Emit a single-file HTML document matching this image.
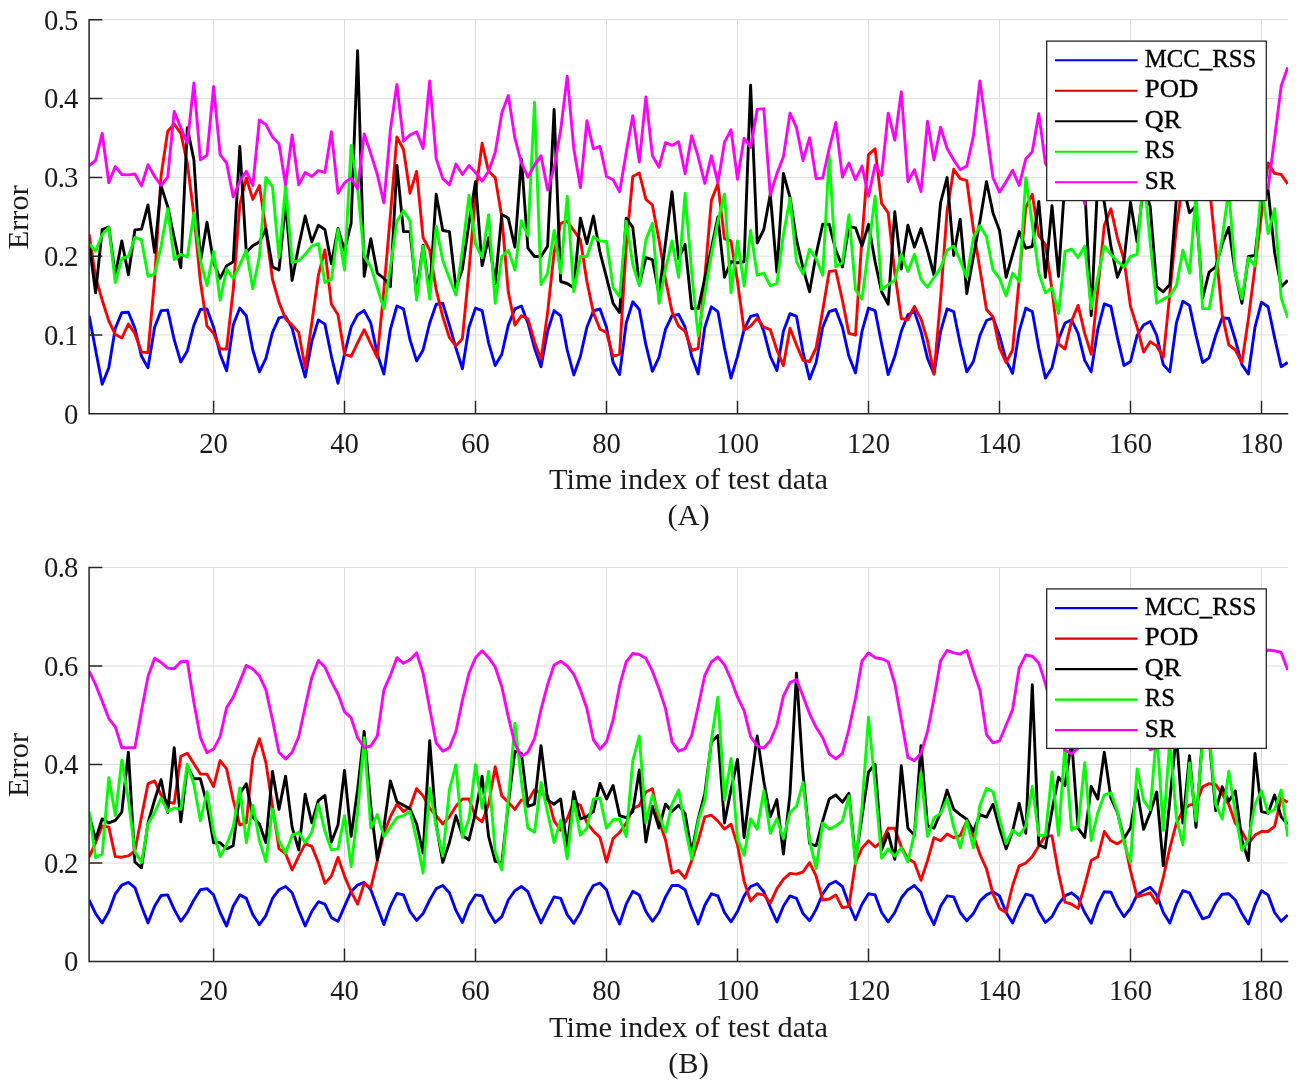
<!DOCTYPE html>
<html><head><meta charset="utf-8"><title>Error plots</title>
<style>
html,body{margin:0;padding:0;background:#fff;}
svg{display:block;}
text{font-family:"Liberation Serif","DejaVu Serif",serif;fill:#1a1a1a;}
.tk{font-size:28.7px;}
.lb{font-size:30.4px;}
.lg{font-size:24.8px;fill:#000;stroke:#000;stroke-width:0.35px;}
</style></head><body>
<svg width="1299" height="1089" viewBox="0 0 1299 1089">
<rect width="1299" height="1089" fill="#fff"/>
<clipPath id="ca"><rect x="89.1" y="19.8" width="1199.1" height="394.0"/></clipPath>
<path d="M213.6 19.8V413.8M344.5 19.8V413.8M475.5 19.8V413.8M606.5 19.8V413.8M737.5 19.8V413.8M868.5 19.8V413.8M999.5 19.8V413.8M1130.5 19.8V413.8M1261.5 19.8V413.8M89.1 335.0H1287.7M89.1 256.2H1287.7M89.1 177.4H1287.7M89.1 98.6H1287.7M89.1 19.8H1287.7" stroke="#dedede" stroke-width="1" fill="none"/>
<polyline clip-path="url(#ca)" points="89.1,315.8 95.6,350.0 102.2,384.3 108.8,367.7 115.3,328.2 121.8,312.6 128.4,312.2 134.9,328.2 141.5,356.3 148.0,367.7 154.6,327.2 161.1,310.6 167.7,310.1 174.2,339.7 180.8,362.1 187.3,351.1 193.9,325.1 200.4,309.5 207.0,308.9 213.6,327.2 220.1,354.2 226.6,370.8 233.2,325.1 239.8,308.1 246.3,315.8 252.8,350.0 259.4,371.9 265.9,358.4 272.5,332.4 279.0,317.8 285.6,316.4 292.1,328.2 298.7,354.2 305.2,377.1 311.8,341.7 318.4,319.9 324.9,324.1 331.4,356.3 338.0,383.3 344.5,354.2 351.1,327.2 357.6,314.7 364.2,310.6 370.8,323.0 377.3,354.2 383.9,374.0 390.4,329.3 396.9,306.0 403.5,308.9 410.0,339.7 416.6,360.9 423.1,350.0 429.7,323.0 436.2,304.3 442.8,303.3 449.4,325.1 455.9,348.0 462.4,368.8 469.0,327.2 475.5,308.1 482.1,310.6 488.6,342.8 495.2,365.6 501.8,354.2 508.3,325.1 514.9,308.9 521.4,306.0 527.9,323.0 534.5,348.0 541.0,366.7 547.6,331.3 554.1,310.6 560.7,315.8 567.2,350.0 573.8,375.0 580.4,356.3 586.9,327.2 593.4,311.0 600.0,308.9 606.5,327.2 613.1,362.5 619.6,374.6 626.2,323.0 632.8,301.8 639.3,309.5 645.9,344.9 652.4,371.3 659.0,357.3 665.5,329.3 672.0,315.8 678.6,314.3 685.1,327.2 691.7,356.3 698.2,374.0 704.8,327.2 711.4,306.8 717.9,311.6 724.5,348.0 731.0,378.1 737.5,356.3 744.1,329.3 750.6,316.4 757.2,314.7 763.8,331.3 770.3,356.3 776.9,370.4 783.4,331.3 790.0,313.7 796.5,316.4 803.0,352.1 809.6,379.1 816.1,362.5 822.7,327.2 829.2,311.6 835.8,309.5 842.4,327.2 848.9,356.3 855.5,372.9 862.0,331.3 868.5,308.1 875.1,310.6 881.6,343.8 888.2,374.6 894.8,356.3 901.3,331.3 907.9,314.7 914.4,311.6 921.0,331.3 927.5,358.4 934.0,374.0 940.6,331.3 947.1,308.9 953.7,311.6 960.2,343.8 966.8,371.9 973.4,361.5 979.9,335.5 986.5,320.5 993.0,317.8 999.5,335.5 1006.1,360.4 1012.6,373.3 1019.2,331.3 1025.8,308.1 1032.3,311.6 1038.8,348.0 1045.4,378.1 1052.0,367.7 1058.5,339.7 1065.0,323.0 1071.6,319.9 1078.1,333.4 1084.7,360.4 1091.2,371.9 1097.8,329.3 1104.3,303.9 1110.9,306.4 1117.4,337.6 1124.0,365.6 1130.5,361.5 1137.1,335.5 1143.6,325.1 1150.2,321.4 1156.7,335.5 1163.3,364.6 1169.8,371.9 1176.4,323.0 1182.9,301.2 1189.5,305.4 1196.0,335.5 1202.6,362.5 1209.1,357.9 1215.7,335.5 1222.2,317.8 1228.8,318.5 1235.3,339.7 1241.9,364.6 1248.4,374.0 1255.0,327.2 1261.5,302.2 1268.1,306.8 1274.6,337.6 1281.2,366.7 1287.7,362.5" fill="none" stroke="#0000ff" stroke-width="2.9" stroke-linejoin="round"/>
<polyline clip-path="url(#ca)" points="89.1,234.1 95.6,277.3 102.2,300.2 108.8,320.9 115.3,334.5 121.8,338.0 128.4,324.1 134.9,333.4 141.5,352.1 148.0,352.5 154.6,279.4 161.1,175.5 167.7,131.2 174.2,124.0 180.8,133.3 187.3,163.0 193.9,215.0 200.4,281.5 207.0,326.1 213.6,333.4 220.1,349.0 226.6,349.0 233.2,289.8 239.8,204.6 246.3,178.0 252.8,199.4 259.4,185.5 265.9,229.5 272.5,279.4 279.0,302.2 285.6,318.9 292.1,325.1 298.7,332.4 305.2,367.7 311.8,323.0 318.4,275.2 324.9,249.9 331.4,304.3 338.0,314.7 344.5,354.2 351.1,356.3 357.6,342.8 364.2,329.7 370.8,343.8 377.3,357.3 383.9,289.8 390.4,214.9 396.9,137.0 403.5,149.5 410.0,193.2 416.6,171.3 423.1,237.8 429.7,250.3 436.2,289.8 442.8,316.8 449.4,337.6 455.9,345.9 462.4,338.6 469.0,270.0 475.5,194.6 482.1,143.3 488.6,171.3 495.2,177.6 501.8,217.0 508.3,291.8 514.9,325.1 521.4,315.8 527.9,318.9 534.5,341.7 541.0,359.4 547.6,312.6 554.1,252.4 560.7,223.3 567.2,221.2 573.8,230.5 580.4,239.9 586.9,281.5 593.4,312.6 600.0,329.3 606.5,332.4 613.1,356.3 619.6,354.2 626.2,246.1 632.8,176.5 639.3,173.0 645.9,199.4 652.4,205.0 659.0,239.9 665.5,279.4 672.0,311.6 678.6,326.1 685.1,331.3 691.7,350.5 698.2,348.4 704.8,277.3 711.4,200.4 717.9,183.8 724.5,238.8 731.0,240.9 737.5,281.5 744.1,330.3 750.6,326.1 757.2,318.5 763.8,327.2 770.3,329.7 776.9,350.0 783.4,365.6 790.0,328.2 796.5,344.9 803.0,360.4 809.6,361.5 816.1,348.0 822.7,310.6 829.2,271.5 835.8,270.6 842.4,300.2 848.9,333.4 855.5,335.1 862.0,237.8 868.5,154.7 875.1,148.9 881.6,203.5 888.2,212.9 894.8,273.1 901.3,318.5 907.9,319.9 914.4,306.4 921.0,318.9 927.5,340.7 934.0,374.0 940.6,298.1 947.1,210.8 953.7,169.3 960.2,178.6 966.8,180.7 973.4,229.5 979.9,269.0 986.5,309.5 993.0,316.8 999.5,348.0 1006.1,362.5 1012.6,350.0 1019.2,279.4 1025.8,207.7 1032.3,194.2 1038.8,235.7 1045.4,244.5 1052.0,289.8 1058.5,343.8 1065.0,349.0 1071.6,320.9 1078.1,305.4 1084.7,333.4 1091.2,354.2 1097.8,289.8 1104.3,225.3 1110.9,208.7 1117.4,237.8 1124.0,259.6 1130.5,306.4 1137.1,327.2 1143.6,352.1 1150.2,341.7 1156.7,345.9 1163.3,357.3 1169.8,293.9 1176.4,227.4 1182.9,181.7 1189.5,158.8 1196.0,148.4 1202.6,158.8 1209.1,183.8 1215.7,248.2 1222.2,314.7 1228.8,344.9 1235.3,350.0 1241.9,362.5 1248.4,318.9 1255.0,266.9 1261.5,214.9 1268.1,163.0 1274.6,173.4 1281.2,174.5 1287.7,183.8" fill="none" stroke="#ff0000" stroke-width="2.9" stroke-linejoin="round"/>
<polyline clip-path="url(#ca)" points="89.1,243.0 95.6,292.9 102.2,229.5 108.8,227.0 115.3,275.2 121.8,240.9 128.4,274.8 134.9,229.9 141.5,229.1 148.0,205.0 154.6,252.4 161.1,185.9 167.7,206.6 174.2,237.8 180.8,267.9 187.3,127.7 193.9,159.9 200.4,261.7 207.0,222.2 213.6,262.7 220.1,278.3 226.6,265.9 233.2,261.7 239.8,146.4 246.3,252.4 252.8,245.7 259.4,242.0 265.9,229.1 272.5,266.9 279.0,270.0 285.6,202.5 292.1,280.4 298.7,246.1 305.2,216.0 311.8,242.0 318.4,225.3 324.9,229.5 331.4,263.8 338.0,228.5 344.5,250.3 351.1,223.3 357.6,50.8 364.2,276.3 370.8,238.8 377.3,273.1 383.9,278.3 390.4,286.7 396.9,165.5 403.5,231.6 410.0,231.6 416.6,293.9 423.1,245.1 429.7,293.9 436.2,194.2 442.8,230.5 449.4,231.6 455.9,287.7 462.4,269.0 469.0,223.3 475.5,181.7 482.1,265.9 488.6,237.8 495.2,283.5 501.8,214.5 508.3,218.1 514.9,247.2 521.4,158.9 527.9,248.2 534.5,256.5 541.0,256.5 547.6,246.1 554.1,109.4 560.7,281.5 567.2,283.5 573.8,287.7 580.4,218.1 586.9,243.6 593.4,216.0 600.0,252.4 606.5,277.3 613.1,303.3 619.6,312.6 626.2,218.1 632.8,227.4 639.3,284.6 645.9,257.6 652.4,259.6 659.0,293.9 665.5,242.8 672.0,191.7 678.6,258.6 685.1,244.5 691.7,308.5 698.2,308.9 704.8,278.3 711.4,248.2 717.9,217.0 724.5,277.3 731.0,261.7 737.5,262.7 744.1,261.7 750.6,85.1 757.2,243.0 763.8,229.5 770.3,194.2 776.9,272.1 783.4,173.4 790.0,197.3 796.5,239.9 803.0,267.9 809.6,291.8 816.1,254.4 822.7,224.3 829.2,224.3 835.8,250.3 842.4,266.9 848.9,226.4 855.5,227.8 862.0,246.1 868.5,224.3 875.1,261.7 881.6,291.8 888.2,304.3 894.8,211.8 901.3,269.0 907.9,225.3 914.4,247.2 921.0,228.5 927.5,250.3 934.0,275.2 940.6,202.5 947.1,177.6 953.7,255.5 960.2,219.1 966.8,293.5 973.4,256.5 979.9,221.2 986.5,181.7 993.0,212.9 999.5,230.5 1006.1,277.3 1012.6,254.4 1019.2,231.6 1025.8,248.2 1032.3,246.5 1038.8,201.4 1045.4,277.3 1052.0,205.6 1058.5,276.3 1065.0,179.6 1071.6,190.0 1078.1,169.2 1084.7,185.8 1091.2,315.8 1097.8,179.6 1104.3,202.5 1110.9,246.1 1117.4,277.3 1124.0,260.7 1130.5,202.5 1137.1,242.0 1143.6,183.8 1150.2,206.6 1156.7,286.7 1163.3,291.8 1169.8,284.6 1176.4,198.3 1182.9,183.8 1189.5,212.9 1196.0,205.6 1202.6,298.1 1209.1,272.1 1215.7,266.9 1222.2,244.0 1228.8,227.4 1235.3,273.1 1241.9,303.3 1248.4,256.5 1255.0,255.5 1261.5,200.4 1268.1,190.0 1274.6,252.4 1281.2,286.7 1287.7,280.4" fill="none" stroke="#000000" stroke-width="2.9" stroke-linejoin="round"/>
<polyline clip-path="url(#ca)" points="89.1,243.6 95.6,251.3 102.2,234.7 108.8,227.4 115.3,282.5 121.8,258.6 128.4,256.5 134.9,237.4 141.5,239.9 148.0,276.3 154.6,274.2 161.1,246.1 167.7,208.7 174.2,259.6 180.8,254.4 187.3,256.9 193.9,212.9 200.4,260.7 207.0,285.6 213.6,251.3 220.1,300.2 226.6,269.0 233.2,278.3 239.8,264.8 246.3,250.3 252.8,288.7 259.4,256.5 265.9,177.6 272.5,186.9 279.0,257.6 285.6,185.9 292.1,262.7 298.7,260.7 305.2,254.4 311.8,246.1 318.4,243.6 324.9,282.5 331.4,279.4 338.0,229.5 344.5,270.0 351.1,145.4 357.6,188.0 364.2,256.5 370.8,266.9 377.3,287.7 383.9,308.9 390.4,266.9 396.9,221.2 403.5,210.8 410.0,221.2 416.6,300.2 423.1,246.1 429.7,299.1 436.2,226.4 442.8,260.7 449.4,278.3 455.9,295.0 462.4,250.3 469.0,195.2 475.5,244.0 482.1,257.6 488.6,214.9 495.2,303.3 501.8,256.5 508.3,250.3 514.9,270.0 521.4,220.8 527.9,235.7 534.5,102.3 541.0,284.6 547.6,273.1 554.1,230.5 560.7,273.1 567.2,196.2 573.8,291.8 580.4,256.5 586.9,256.5 593.4,236.8 600.0,240.9 606.5,241.5 613.1,287.7 619.6,297.0 626.2,221.2 632.8,264.8 639.3,285.6 645.9,239.9 652.4,223.3 659.0,303.3 665.5,269.0 672.0,240.9 678.6,277.3 685.1,193.1 691.7,273.1 698.2,335.5 704.8,293.9 711.4,254.4 717.9,221.2 724.5,194.2 731.0,292.9 737.5,240.9 744.1,286.0 750.6,230.5 757.2,275.2 763.8,273.1 770.3,286.0 776.9,283.5 783.4,234.7 790.0,198.3 796.5,261.7 803.0,274.2 809.6,249.2 816.1,258.6 822.7,275.2 829.2,154.7 835.8,266.9 842.4,262.7 848.9,214.9 855.5,289.8 862.0,299.1 868.5,248.2 875.1,196.2 881.6,289.8 888.2,284.6 894.8,280.4 901.3,254.4 907.9,271.5 914.4,254.4 921.0,279.4 927.5,287.3 934.0,277.3 940.6,267.9 947.1,250.3 953.7,246.1 960.2,260.7 966.8,277.3 973.4,237.8 979.9,225.8 986.5,236.8 993.0,270.0 999.5,278.3 1006.1,296.0 1012.6,273.1 1019.2,281.5 1025.8,178.0 1032.3,225.3 1038.8,273.1 1045.4,292.9 1052.0,287.7 1058.5,313.7 1065.0,251.3 1071.6,249.2 1078.1,257.6 1084.7,246.1 1091.2,308.5 1097.8,277.3 1104.3,246.1 1110.9,254.4 1117.4,261.7 1124.0,266.9 1130.5,256.5 1137.1,254.4 1143.6,171.3 1150.2,243.0 1156.7,303.3 1163.3,299.1 1169.8,296.0 1176.4,285.6 1182.9,250.3 1189.5,273.1 1196.0,194.2 1202.6,308.5 1209.1,308.9 1215.7,273.1 1222.2,237.8 1228.8,190.0 1235.3,273.1 1241.9,299.1 1248.4,257.6 1255.0,265.9 1261.5,185.8 1268.1,233.6 1274.6,208.7 1281.2,298.1 1287.7,317.8" fill="none" stroke="#00ff00" stroke-width="2.9" stroke-linejoin="round"/>
<polyline clip-path="url(#ca)" points="89.1,165.5 95.6,160.5 102.2,133.3 108.8,182.8 115.3,166.6 121.8,174.5 128.4,174.9 134.9,174.0 141.5,185.9 148.0,164.7 154.6,176.5 161.1,185.5 167.7,177.2 174.2,111.5 180.8,127.7 187.3,143.3 193.9,83.0 200.4,159.9 207.0,155.3 213.6,86.5 220.1,154.7 226.6,163.0 233.2,196.9 239.8,181.3 246.3,171.3 252.8,185.5 259.4,120.0 265.9,124.6 272.5,137.0 279.0,143.9 285.6,184.9 292.1,135.0 298.7,184.9 305.2,172.4 311.8,176.5 318.4,170.7 324.9,172.4 331.4,131.8 338.0,193.2 344.5,182.8 351.1,178.0 357.6,189.0 364.2,133.9 370.8,153.7 377.3,174.5 383.9,202.9 390.4,129.8 396.9,84.5 403.5,141.2 410.0,135.0 416.6,131.8 423.1,148.5 429.7,80.9 436.2,158.9 442.8,178.6 449.4,184.9 455.9,164.1 462.4,174.5 469.0,165.5 475.5,172.4 482.1,181.1 488.6,171.3 495.2,152.6 501.8,113.1 508.3,95.5 514.9,138.1 521.4,163.0 527.9,177.2 534.5,165.1 541.0,155.8 547.6,190.0 554.1,168.2 560.7,129.8 567.2,76.1 573.8,148.5 580.4,187.6 586.9,120.8 593.4,148.9 600.0,146.4 606.5,176.5 613.1,179.7 619.6,191.7 626.2,152.6 632.8,115.6 639.3,162.0 645.9,96.9 652.4,155.8 659.0,167.2 665.5,142.7 672.0,145.4 678.6,141.8 685.1,173.8 691.7,135.6 698.2,156.8 704.8,183.4 711.4,155.8 717.9,182.8 724.5,142.2 731.0,129.8 737.5,179.2 744.1,138.1 750.6,147.4 757.2,109.4 763.8,108.6 770.3,195.2 776.9,173.4 783.4,156.8 790.0,113.1 796.5,127.7 803.0,160.5 809.6,137.7 816.1,178.6 822.7,178.0 829.2,148.5 835.8,122.5 842.4,177.2 848.9,163.0 855.5,179.7 862.0,166.1 868.5,196.3 875.1,165.1 881.6,175.5 888.2,113.1 894.8,140.2 901.3,91.7 907.9,181.7 914.4,169.7 921.0,191.7 927.5,121.5 934.0,159.9 940.6,127.3 947.1,148.5 953.7,159.9 960.2,169.7 966.8,166.1 973.4,136.0 979.9,80.9 986.5,129.8 993.0,178.0 999.5,192.1 1006.1,181.7 1012.6,170.3 1019.2,185.5 1025.8,158.9 1032.3,151.6 1038.8,113.6 1045.4,163.0 1052.0,175.5 1058.5,165.1 1065.0,146.4 1071.6,173.4 1078.1,163.0 1084.7,204.2 1091.2,154.7 1097.8,138.1 1104.3,171.3 1110.9,163.0 1117.4,146.4 1124.0,175.5 1130.5,165.1 1137.1,154.7 1143.6,165.1 1150.2,175.5 1156.7,154.7 1163.3,146.4 1169.8,173.4 1176.4,179.7 1182.9,163.0 1189.5,146.4 1196.0,156.8 1202.6,175.5 1209.1,165.1 1215.7,152.6 1222.2,163.0 1228.8,175.5 1235.3,167.2 1241.9,154.7 1248.4,165.1 1255.0,175.5 1261.5,179.7 1268.1,188.0 1274.6,138.1 1281.2,86.1 1287.7,67.4" fill="none" stroke="#ff00ff" stroke-width="2.9" stroke-linejoin="round"/>
<path d="M89.1 19.1V413.8H1288.2M213.6 413.8v-13M344.5 413.8v-13M475.5 413.8v-13M606.5 413.8v-13M737.5 413.8v-13M868.5 413.8v-13M999.5 413.8v-13M1130.5 413.8v-13M1261.5 413.8v-13M89.1 413.8h13.2M89.1 335.0h13.2M89.1 256.2h13.2M89.1 177.4h13.2M89.1 98.6h13.2M89.1 19.8h13.2" stroke="#262626" stroke-width="1.5" fill="none"/>
<text x="213.6" y="452.6" text-anchor="middle" class="tk">20</text>
<text x="344.5" y="452.6" text-anchor="middle" class="tk">40</text>
<text x="475.5" y="452.6" text-anchor="middle" class="tk">60</text>
<text x="606.5" y="452.6" text-anchor="middle" class="tk">80</text>
<text x="737.5" y="452.6" text-anchor="middle" class="tk">100</text>
<text x="868.5" y="452.6" text-anchor="middle" class="tk">120</text>
<text x="999.5" y="452.6" text-anchor="middle" class="tk">140</text>
<text x="1130.5" y="452.6" text-anchor="middle" class="tk">160</text>
<text x="1261.5" y="452.6" text-anchor="middle" class="tk">180</text>
<text x="78.4" y="423.6" text-anchor="end" class="tk">0</text>
<text x="78.4" y="344.8" text-anchor="end" class="tk" textLength="34.3" lengthAdjust="spacing">0.1</text>
<text x="78.4" y="266.0" text-anchor="end" class="tk" textLength="34.3" lengthAdjust="spacing">0.2</text>
<text x="78.4" y="187.2" text-anchor="end" class="tk" textLength="34.3" lengthAdjust="spacing">0.3</text>
<text x="78.4" y="108.4" text-anchor="end" class="tk" textLength="34.3" lengthAdjust="spacing">0.4</text>
<text x="78.4" y="29.6" text-anchor="end" class="tk" textLength="34.3" lengthAdjust="spacing">0.5</text>
<text transform="translate(28 217.3) rotate(-90)" text-anchor="middle" class="lb">Error</text>
<text x="688.5" y="489.2" text-anchor="middle" class="lb">Time index of test data</text>
<text x="688.5" y="525.3" text-anchor="middle" class="lb">(A)</text>
<rect x="1046.7" y="41.1" width="219.6" height="159.5" fill="#fff" stroke="#262626" stroke-width="1.3"/>
<path d="M1055 60.3H1137.6" stroke="#0000e6" stroke-width="2.1"/>
<text x="1144.8" y="66.7" class="lg" textLength="111.5" lengthAdjust="spacingAndGlyphs">MCC_RSS</text>
<path d="M1055 90.8H1137.6" stroke="#d00000" stroke-width="2.1"/>
<text x="1144.8" y="97.2" class="lg" textLength="53.5" lengthAdjust="spacingAndGlyphs">POD</text>
<path d="M1055 121.3H1137.6" stroke="#000000" stroke-width="2.1"/>
<text x="1144.8" y="127.7" class="lg" textLength="36.3" lengthAdjust="spacingAndGlyphs">QR</text>
<path d="M1055 151.8H1137.6" stroke="#00f000" stroke-width="2.1"/>
<text x="1144.8" y="158.2" class="lg" textLength="30.1" lengthAdjust="spacingAndGlyphs">RS</text>
<path d="M1055 182.3H1137.6" stroke="#f000f0" stroke-width="2.1"/>
<text x="1144.8" y="188.7" class="lg" textLength="31.0" lengthAdjust="spacingAndGlyphs">SR</text>
<clipPath id="cb"><rect x="89.1" y="567.5" width="1199.1" height="394.0"/></clipPath>
<path d="M213.6 567.5V961.5M344.5 567.5V961.5M475.5 567.5V961.5M606.5 567.5V961.5M737.5 567.5V961.5M868.5 567.5V961.5M999.5 567.5V961.5M1130.5 567.5V961.5M1261.5 567.5V961.5M89.1 863.0H1287.7M89.1 764.5H1287.7M89.1 666.0H1287.7M89.1 567.5H1287.7" stroke="#dedede" stroke-width="1" fill="none"/>
<polyline clip-path="url(#cb)" points="89.1,900.0 95.6,913.6 102.2,922.9 108.8,911.5 115.3,893.8 121.8,885.1 128.4,882.4 134.9,887.6 141.5,906.3 148.0,922.9 154.6,906.3 161.1,895.5 167.7,894.9 174.2,909.4 180.8,921.3 187.3,912.5 193.9,900.0 200.4,889.7 207.0,888.6 213.6,894.9 220.1,912.5 226.6,926.0 233.2,906.3 239.8,894.9 246.3,898.4 252.8,914.6 259.4,924.6 265.9,915.6 272.5,898.4 279.0,889.7 285.6,886.5 292.1,892.8 298.7,910.4 305.2,926.0 311.8,911.5 318.4,901.7 324.9,904.2 331.4,917.7 338.0,921.3 344.5,906.3 351.1,891.7 357.6,885.1 364.2,882.4 370.8,889.7 377.3,907.3 383.9,924.6 390.4,906.3 396.9,893.4 403.5,894.9 410.0,911.5 416.6,920.4 423.1,913.6 429.7,900.0 436.2,888.6 442.8,885.5 449.4,892.8 455.9,910.4 462.4,922.5 469.0,905.2 475.5,894.9 482.1,895.9 488.6,911.5 495.2,922.5 501.8,916.7 508.3,900.0 514.9,890.7 521.4,886.5 527.9,891.7 534.5,908.4 541.0,922.9 547.6,909.4 554.1,896.9 560.7,898.4 567.2,914.6 573.8,923.3 580.4,912.5 586.9,896.9 593.4,885.5 600.0,883.0 606.5,889.7 613.1,910.4 619.6,924.0 626.2,904.2 632.8,891.3 639.3,894.9 645.9,911.5 652.4,921.3 659.0,912.5 665.5,896.9 672.0,885.5 678.6,885.5 685.1,889.7 691.7,908.4 698.2,924.0 704.8,905.2 711.4,893.8 717.9,895.9 724.5,912.5 731.0,921.9 737.5,911.5 744.1,895.9 750.6,886.5 757.2,883.8 763.8,891.7 770.3,907.3 776.9,921.9 783.4,906.3 790.0,895.9 796.5,898.4 803.0,913.6 809.6,920.8 816.1,909.4 822.7,893.8 829.2,884.5 835.8,881.3 842.4,886.5 848.9,904.2 855.5,919.8 862.0,904.2 868.5,893.8 875.1,894.9 881.6,912.5 888.2,921.9 894.8,912.5 901.3,898.0 907.9,889.7 914.4,885.5 921.0,892.8 927.5,911.5 934.0,924.6 940.6,906.3 947.1,895.9 953.7,896.9 960.2,912.5 966.8,920.8 973.4,913.6 979.9,901.1 986.5,894.9 993.0,891.7 999.5,895.9 1006.1,912.5 1012.6,922.9 1019.2,907.3 1025.8,894.2 1032.3,895.9 1038.8,911.5 1045.4,922.5 1052.0,916.7 1058.5,904.2 1065.0,895.9 1071.6,892.8 1078.1,898.0 1084.7,912.5 1091.2,923.3 1097.8,904.2 1104.3,891.7 1110.9,892.2 1117.4,906.3 1124.0,916.7 1130.5,908.4 1137.1,894.9 1143.6,890.7 1150.2,887.2 1156.7,894.9 1163.3,912.5 1169.8,922.9 1176.4,904.2 1182.9,890.7 1189.5,892.8 1196.0,906.3 1202.6,918.8 1209.1,916.7 1215.7,903.2 1222.2,894.2 1228.8,893.8 1235.3,900.0 1241.9,913.6 1248.4,924.0 1255.0,905.2 1261.5,890.7 1268.1,894.9 1274.6,912.5 1281.2,921.3 1287.7,915.0" fill="none" stroke="#0000ff" stroke-width="2.9" stroke-linejoin="round"/>
<polyline clip-path="url(#cb)" points="89.1,857.2 95.6,842.7 102.2,826.0 108.8,827.1 115.3,856.6 121.8,857.2 128.4,855.8 134.9,851.0 141.5,816.7 148.0,783.8 154.6,780.9 161.1,794.9 167.7,802.1 174.2,803.2 180.8,756.4 187.3,753.3 193.9,763.7 200.4,774.1 207.0,774.1 213.6,786.5 220.1,760.6 226.6,768.9 233.2,800.0 239.8,825.0 246.3,822.9 252.8,758.5 259.4,738.7 265.9,762.6 272.5,806.3 279.0,848.9 285.6,853.7 292.1,869.9 298.7,856.4 305.2,843.9 311.8,846.4 318.4,862.6 324.9,883.4 331.4,876.1 338.0,857.4 344.5,876.1 351.1,891.7 357.6,904.2 364.2,883.4 370.8,888.0 377.3,860.6 383.9,833.3 390.4,816.7 396.9,804.2 403.5,811.5 410.0,807.3 416.6,788.6 423.1,795.9 429.7,808.4 436.2,815.6 442.8,824.0 449.4,816.7 455.9,806.3 462.4,799.0 469.0,799.0 475.5,816.7 482.1,821.9 488.6,804.2 495.2,766.8 501.8,795.9 508.3,802.1 514.9,809.4 521.4,800.0 527.9,801.1 534.5,789.7 541.0,793.8 547.6,795.9 554.1,820.8 560.7,830.2 567.2,818.8 573.8,802.1 580.4,805.2 586.9,822.9 593.4,831.2 600.0,837.5 606.5,862.0 613.1,838.5 619.6,832.5 626.2,823.1 632.8,808.6 639.3,805.5 645.9,792.0 652.4,788.8 659.0,821.1 665.5,839.8 672.0,873.0 678.6,870.5 685.1,878.2 691.7,860.6 698.2,840.8 704.8,816.9 711.4,815.2 717.9,821.1 724.5,829.0 731.0,824.2 737.5,845.0 744.1,881.3 750.6,901.1 757.2,893.8 763.8,894.9 770.3,903.2 776.9,888.6 783.4,879.3 790.0,873.4 796.5,874.1 803.0,872.0 809.6,862.6 816.1,876.1 822.7,900.0 829.2,899.0 835.8,894.9 842.4,907.9 848.9,906.3 855.5,862.6 862.0,848.1 868.5,840.8 875.1,847.0 881.6,841.8 888.2,828.3 894.8,828.3 901.3,847.0 907.9,858.5 914.4,862.6 921.0,880.3 927.5,860.6 934.0,837.7 940.6,840.8 947.1,834.0 953.7,837.7 960.2,835.6 966.8,821.1 973.4,835.6 979.9,854.3 986.5,868.9 993.0,893.8 999.5,908.4 1006.1,912.5 1012.6,885.5 1019.2,865.8 1025.8,863.1 1032.3,856.4 1038.8,846.0 1045.4,835.6 1052.0,836.0 1058.5,873.0 1065.0,902.1 1071.6,904.2 1078.1,908.4 1084.7,885.5 1091.2,860.6 1097.8,856.8 1104.3,831.5 1110.9,840.8 1117.4,843.9 1124.0,839.4 1130.5,870.9 1137.1,896.9 1143.6,894.9 1150.2,892.8 1156.7,903.2 1163.3,877.2 1169.8,848.1 1176.4,823.1 1182.9,810.7 1189.5,804.9 1196.0,804.4 1202.6,786.8 1209.1,783.6 1215.7,784.7 1222.2,794.0 1228.8,804.4 1235.3,823.1 1241.9,831.5 1248.4,843.9 1255.0,835.0 1261.5,831.5 1268.1,831.5 1274.6,826.3 1281.2,798.2 1287.7,802.4" fill="none" stroke="#ff0000" stroke-width="2.9" stroke-linejoin="round"/>
<polyline clip-path="url(#cb)" points="89.1,814.6 95.6,839.5 102.2,818.8 108.8,822.9 115.3,820.4 121.8,812.1 128.4,752.2 134.9,862.0 141.5,867.8 148.0,822.9 154.6,800.0 161.1,779.7 167.7,812.5 174.2,747.7 180.8,821.9 187.3,766.8 193.9,778.8 200.4,778.8 207.0,804.2 213.6,842.7 220.1,842.7 226.6,848.9 233.2,845.8 239.8,793.8 246.3,783.8 252.8,816.7 259.4,824.0 265.9,842.7 272.5,771.4 279.0,809.4 285.6,776.1 292.1,827.1 298.7,849.9 305.2,794.2 311.8,822.9 318.4,800.5 324.9,795.5 331.4,842.0 338.0,825.0 344.5,770.5 351.1,836.4 357.6,789.7 364.2,731.5 370.8,806.3 377.3,859.9 383.9,827.1 390.4,780.9 396.9,801.7 403.5,805.2 410.0,808.8 416.6,824.0 423.1,853.1 429.7,740.8 436.2,825.0 442.8,862.4 449.4,842.7 455.9,815.6 462.4,835.4 469.0,840.0 475.5,812.5 482.1,776.1 488.6,836.4 495.2,861.4 501.8,862.8 508.3,804.2 514.9,751.2 521.4,753.3 527.9,806.3 534.5,804.2 541.0,745.6 547.6,800.0 554.1,804.2 560.7,799.0 567.2,847.9 573.8,791.7 580.4,818.8 586.9,816.7 593.4,811.5 600.0,783.4 606.5,799.0 613.1,785.5 619.6,815.6 626.2,817.7 632.8,811.5 639.3,769.9 645.9,842.0 652.4,806.3 659.0,828.1 665.5,804.2 672.0,811.5 678.6,805.2 685.1,813.6 691.7,852.8 698.2,818.8 704.8,793.8 711.4,741.8 717.9,735.6 724.5,822.9 731.0,789.7 737.5,759.5 744.1,837.5 750.6,785.5 757.2,736.0 763.8,781.3 770.3,816.7 776.9,799.6 783.4,854.1 790.0,793.8 796.5,673.3 803.0,773.0 809.6,843.7 816.1,845.8 822.7,820.8 829.2,799.0 835.8,794.9 842.4,802.1 848.9,793.4 855.5,859.5 862.0,816.7 868.5,772.0 875.1,764.3 881.6,849.9 888.2,833.3 894.8,859.3 901.3,765.8 907.9,828.1 914.4,835.4 921.0,745.6 927.5,826.0 934.0,828.1 940.6,812.5 947.1,790.1 953.7,809.4 960.2,814.6 966.8,819.2 973.4,831.4 979.9,814.6 986.5,817.1 993.0,804.2 999.5,828.1 1006.1,848.9 1012.6,831.2 1019.2,803.2 1025.8,833.3 1032.3,684.7 1038.8,844.7 1045.4,847.9 1052.0,810.4 1058.5,777.2 1065.0,785.5 1071.6,739.8 1078.1,828.1 1084.7,837.5 1091.2,786.5 1097.8,799.0 1104.3,752.2 1110.9,798.0 1117.4,812.5 1124.0,838.5 1130.5,828.1 1137.1,789.7 1143.6,829.4 1150.2,812.7 1156.7,792.0 1163.3,865.8 1169.8,800.3 1176.4,733.8 1182.9,823.1 1189.5,755.6 1196.0,827.3 1202.6,735.8 1209.1,737.9 1215.7,810.7 1222.2,786.8 1228.8,801.3 1235.3,790.9 1241.9,839.8 1248.4,860.6 1255.0,753.5 1261.5,811.7 1268.1,813.2 1274.6,795.1 1281.2,816.9 1287.7,824.2" fill="none" stroke="#000000" stroke-width="2.9" stroke-linejoin="round"/>
<polyline clip-path="url(#cb)" points="89.1,811.5 95.6,857.8 102.2,854.1 108.8,777.6 115.3,815.6 121.8,760.1 128.4,800.0 134.9,852.0 141.5,862.4 148.0,824.0 154.6,812.5 161.1,798.0 167.7,811.5 174.2,807.9 180.8,809.4 187.3,764.3 193.9,784.5 200.4,820.8 207.0,791.7 213.6,832.3 220.1,856.6 226.6,844.7 233.2,827.1 239.8,788.0 246.3,842.7 252.8,805.2 259.4,840.6 265.9,861.6 272.5,809.4 279.0,840.6 285.6,853.1 292.1,835.4 298.7,832.3 305.2,842.7 311.8,832.3 318.4,804.2 324.9,831.2 331.4,849.9 338.0,848.9 344.5,815.6 351.1,866.6 357.6,812.5 364.2,737.7 370.8,828.1 377.3,814.6 383.9,836.4 390.4,827.1 396.9,817.7 403.5,815.6 410.0,811.5 416.6,839.5 423.1,873.0 429.7,788.0 436.2,827.1 442.8,856.2 449.4,789.7 455.9,764.7 462.4,837.5 469.0,818.8 475.5,764.7 482.1,808.4 488.6,771.4 495.2,852.0 501.8,869.9 508.3,800.0 514.9,723.1 521.4,781.3 527.9,828.1 534.5,832.3 541.0,782.4 547.6,812.5 554.1,842.7 560.7,819.8 567.2,858.7 573.8,801.1 580.4,835.4 586.9,828.1 593.4,799.0 600.0,798.0 606.5,828.1 613.1,819.8 619.6,819.2 626.2,836.4 632.8,760.6 639.3,736.0 645.9,822.9 652.4,794.9 659.0,814.6 665.5,832.3 672.0,804.2 678.6,790.1 685.1,827.1 691.7,859.1 698.2,820.8 704.8,800.0 711.4,739.8 717.9,697.2 724.5,800.0 731.0,758.5 737.5,839.5 744.1,855.3 750.6,818.8 757.2,829.1 763.8,790.7 770.3,833.3 776.9,818.8 783.4,838.5 790.0,812.5 796.5,806.3 803.0,782.4 809.6,840.6 816.1,868.6 822.7,822.9 829.2,829.1 835.8,826.0 842.4,820.8 848.9,795.9 855.5,863.7 862.0,806.3 868.5,717.3 875.1,785.5 881.6,858.2 888.2,848.9 894.8,856.2 901.3,847.9 907.9,862.0 914.4,833.3 921.0,773.0 927.5,836.4 934.0,817.7 940.6,813.6 947.1,799.0 953.7,827.1 960.2,847.9 966.8,820.8 973.4,847.9 979.9,805.2 986.5,788.6 993.0,791.7 999.5,818.8 1006.1,843.7 1012.6,830.2 1019.2,835.4 1025.8,826.0 1032.3,786.5 1038.8,835.4 1045.4,835.4 1052.0,772.0 1058.5,835.4 1065.0,745.0 1071.6,830.2 1078.1,826.0 1084.7,762.6 1091.2,840.6 1097.8,812.5 1104.3,794.9 1110.9,792.8 1117.4,811.5 1124.0,842.7 1130.5,862.6 1137.1,768.9 1143.6,800.3 1150.2,809.6 1156.7,731.7 1163.3,830.4 1169.8,740.0 1176.4,817.9 1182.9,845.0 1189.5,762.9 1196.0,821.1 1202.6,740.0 1209.1,735.8 1215.7,804.4 1222.2,819.0 1228.8,771.2 1235.3,812.7 1241.9,850.2 1248.4,839.8 1255.0,804.4 1261.5,790.9 1268.1,812.7 1274.6,809.6 1281.2,789.9 1287.7,836.7" fill="none" stroke="#00ff00" stroke-width="2.9" stroke-linejoin="round"/>
<polyline clip-path="url(#cb)" points="89.1,671.2 95.6,684.7 102.2,701.3 108.8,718.6 115.3,726.9 121.8,747.7 128.4,747.7 134.9,747.7 141.5,710.7 148.0,676.4 154.6,658.3 161.1,662.4 167.7,668.1 174.2,668.7 180.8,661.8 187.3,661.2 193.9,702.4 200.4,737.7 207.0,752.7 213.6,749.1 220.1,736.7 226.6,707.6 233.2,697.2 239.8,681.6 246.3,665.4 252.8,669.1 259.4,675.8 265.9,689.9 272.5,720.0 279.0,752.2 285.6,758.9 292.1,752.2 298.7,736.7 305.2,706.5 311.8,677.4 318.4,660.4 324.9,667.0 331.4,681.6 338.0,694.0 344.5,711.7 351.1,717.9 357.6,737.7 364.2,747.7 370.8,746.0 377.3,736.0 383.9,689.9 390.4,675.3 396.9,657.7 403.5,663.3 410.0,659.7 416.6,652.9 423.1,673.3 429.7,708.6 436.2,742.9 442.8,751.2 449.4,747.7 455.9,731.5 462.4,700.3 469.0,673.3 475.5,657.7 482.1,650.8 488.6,657.7 495.2,667.0 501.8,686.8 508.3,716.9 514.9,743.9 521.4,756.4 527.9,752.2 534.5,738.7 541.0,709.6 547.6,684.7 554.1,664.9 560.7,661.2 567.2,666.0 573.8,674.3 580.4,689.9 586.9,708.6 593.4,739.8 600.0,749.1 606.5,741.8 613.1,720.0 619.6,685.7 626.2,661.8 632.8,653.5 639.3,654.5 645.9,658.3 652.4,671.2 659.0,688.8 665.5,708.6 672.0,741.8 678.6,751.2 685.1,748.5 691.7,735.6 698.2,706.5 704.8,675.3 711.4,661.8 717.9,657.0 724.5,664.9 731.0,679.5 737.5,697.2 744.1,710.7 750.6,736.7 757.2,746.0 763.8,748.1 770.3,740.8 776.9,725.2 783.4,696.1 790.0,682.6 796.5,679.5 803.0,696.1 809.6,713.8 816.1,727.3 822.7,737.7 829.2,753.9 835.8,758.9 842.4,753.3 848.9,729.4 855.5,698.2 862.0,660.8 868.5,652.9 875.1,657.7 881.6,658.7 888.2,661.8 894.8,683.6 901.3,720.0 907.9,757.4 914.4,760.6 921.0,753.3 927.5,731.5 934.0,698.2 940.6,660.8 947.1,650.4 953.7,652.9 960.2,654.1 966.8,650.4 973.4,671.2 979.9,689.9 986.5,734.6 993.0,742.9 999.5,740.8 1006.1,725.2 1012.6,709.6 1019.2,668.1 1025.8,655.0 1032.3,656.2 1038.8,662.9 1045.4,683.6 1052.0,708.6 1058.5,733.5 1065.0,750.2 1071.6,753.9 1078.1,748.1 1084.7,731.5 1091.2,702.4 1097.8,675.3 1104.3,658.7 1110.9,652.5 1117.4,656.6 1124.0,671.2 1130.5,694.0 1137.1,719.0 1143.6,739.8 1150.2,749.7 1156.7,748.1 1163.3,737.7 1169.8,710.7 1176.4,681.6 1182.9,660.8 1189.5,652.5 1196.0,654.5 1202.6,667.0 1209.1,687.8 1215.7,710.7 1222.2,731.5 1228.8,743.9 1235.3,746.0 1241.9,733.5 1248.4,702.4 1255.0,671.2 1261.5,654.5 1268.1,650.0 1274.6,650.8 1281.2,652.5 1287.7,670.1" fill="none" stroke="#ff00ff" stroke-width="2.9" stroke-linejoin="round"/>
<path d="M89.1 566.8V961.5H1288.2M213.6 961.5v-13M344.5 961.5v-13M475.5 961.5v-13M606.5 961.5v-13M737.5 961.5v-13M868.5 961.5v-13M999.5 961.5v-13M1130.5 961.5v-13M1261.5 961.5v-13M89.1 961.5h13.2M89.1 863.0h13.2M89.1 764.5h13.2M89.1 666.0h13.2M89.1 567.5h13.2" stroke="#262626" stroke-width="1.5" fill="none"/>
<text x="213.6" y="1000.3" text-anchor="middle" class="tk">20</text>
<text x="344.5" y="1000.3" text-anchor="middle" class="tk">40</text>
<text x="475.5" y="1000.3" text-anchor="middle" class="tk">60</text>
<text x="606.5" y="1000.3" text-anchor="middle" class="tk">80</text>
<text x="737.5" y="1000.3" text-anchor="middle" class="tk">100</text>
<text x="868.5" y="1000.3" text-anchor="middle" class="tk">120</text>
<text x="999.5" y="1000.3" text-anchor="middle" class="tk">140</text>
<text x="1130.5" y="1000.3" text-anchor="middle" class="tk">160</text>
<text x="1261.5" y="1000.3" text-anchor="middle" class="tk">180</text>
<text x="78.4" y="971.3" text-anchor="end" class="tk">0</text>
<text x="78.4" y="872.8" text-anchor="end" class="tk" textLength="34.3" lengthAdjust="spacing">0.2</text>
<text x="78.4" y="774.3" text-anchor="end" class="tk" textLength="34.3" lengthAdjust="spacing">0.4</text>
<text x="78.4" y="675.8" text-anchor="end" class="tk" textLength="34.3" lengthAdjust="spacing">0.6</text>
<text x="78.4" y="577.3" text-anchor="end" class="tk" textLength="34.3" lengthAdjust="spacing">0.8</text>
<text transform="translate(28 765.0) rotate(-90)" text-anchor="middle" class="lb">Error</text>
<text x="688.5" y="1036.9" text-anchor="middle" class="lb">Time index of test data</text>
<text x="688.5" y="1073.0" text-anchor="middle" class="lb">(B)</text>
<rect x="1046.7" y="588.9" width="219.6" height="159.5" fill="#fff" stroke="#262626" stroke-width="1.3"/>
<path d="M1055 608.1H1137.6" stroke="#0000e6" stroke-width="2.1"/>
<text x="1144.8" y="614.5" class="lg" textLength="111.5" lengthAdjust="spacingAndGlyphs">MCC_RSS</text>
<path d="M1055 638.6H1137.6" stroke="#d00000" stroke-width="2.1"/>
<text x="1144.8" y="645.0" class="lg" textLength="53.5" lengthAdjust="spacingAndGlyphs">POD</text>
<path d="M1055 669.1H1137.6" stroke="#000000" stroke-width="2.1"/>
<text x="1144.8" y="675.5" class="lg" textLength="36.3" lengthAdjust="spacingAndGlyphs">QR</text>
<path d="M1055 699.6H1137.6" stroke="#00f000" stroke-width="2.1"/>
<text x="1144.8" y="706.0" class="lg" textLength="30.1" lengthAdjust="spacingAndGlyphs">RS</text>
<path d="M1055 730.1H1137.6" stroke="#f000f0" stroke-width="2.1"/>
<text x="1144.8" y="736.5" class="lg" textLength="31.0" lengthAdjust="spacingAndGlyphs">SR</text>
</svg>
</body></html>
